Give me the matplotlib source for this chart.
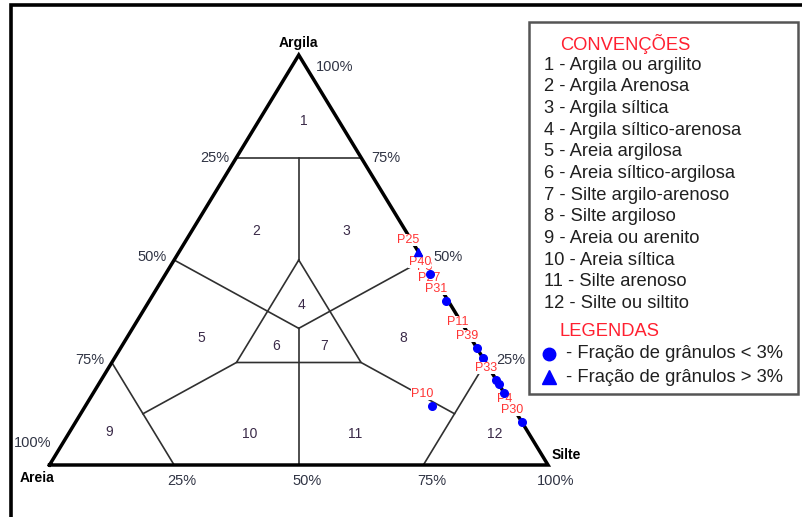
import matplotlib
matplotlib.use("Agg")
import matplotlib.pyplot as plt
from matplotlib.patches import Rectangle

plt.rcParams['font.family'] = ['Liberation Sans', 'DejaVu Sans']

# ---- sample data: (sand, silt, clay) in percent, in plotting order; "" = unnamed ----
sample_names = ["P3", "P27", "P40", "P31", "P11", "P39", "", "P33", "",
                "P4", "", "P30", "P25", "P10"]
sand_pct = [0, 0.5, 0.4, 0.5, 0, 0, 0, 0, 0, 0, 0, 0, 0, 16]
silt_pct = [54.6, 56.8, 53, 59.5, 68, 71.5, 73.9, 79.3, 80.2, 86.8, 82.4, 89.5, 48, 69.5]
clay_pct = [45.4, 42.7, 46.6, 40, 32, 28.5, 26.1, 20.7, 19.8, 13.2, 17.6, 10.5, 52, 14.5]
gravel_over_3 = [False, False, False, False, False, False, False, False, False,
                 False, False, False, True, False]

# ---- Shepard class labels ----
class_ids = ["1", "2", "3", "4", "5", "6", "7", "8", "9", "10", "11", "12"]
class_names = ["Argila ou argilito", "Argila Arenosa", "Argila síltica",
               "Argila síltico-arenosa", "Areia argilosa", "Areia síltico-argilosa",
               "Silte argilo-arenoso", "Silte argiloso", "Areia ou arenito",
               "Areia síltica", "Silte arenoso", "Silte ou siltito"]
class_pos = [(7, 9, 84), (30, 13, 57), (12, 31, 57), (30, 31, 39), (54, 15, 31),
             (40, 31, 29), (30.5, 40.5, 29), (13.5, 55.5, 31), (84, 8, 8),
             (56, 36.5, 7.5), (35, 57.5, 7.5), (7, 85.5, 7.5)]

edge_ticks = [25, 50, 75, 100]
tick_labels = ["25%", "50%", "75%", "100%"]

# ---- geometry of the triangle (figure pixels) ----
X0, Y0, W, H = 49.5, 465.0, 498.5, 410.0


def tern(sand, silt, clay):
    tot = sand + silt + clay
    si, cl = silt / tot, clay / tot
    return X0 + W * (si + cl / 2.0), Y0 - H * cl


fig = plt.figure(figsize=(8.03, 5.17), dpi=100)
ax = fig.add_axes([0, 0, 1, 1])
ax.set_xlim(0, 803)
ax.set_ylim(517, 0)
ax.axis('off')

# outer frame (top and left)
ax.plot([11, 11, 803], [517, 5, 5], color='black', lw=2.6, solid_joinstyle='miter')

# class boundaries
c3 = (100 / 3, 100 / 3, 100 / 3)
segments = [
    [(25, 0, 75), (0, 25, 75)],
    [(12.5, 12.5, 75), (25, 25, 50)],
    [(25, 25, 50), (50, 25, 25), (25, 50, 25), (25, 25, 50)],
    [(50, 0, 50), c3],
    [(0, 50, 50), c3],
    [c3, (50, 50, 0)],
    [(50, 25, 25), (75, 12.5, 12.5)],
    [(25, 50, 25), (12.5, 75, 12.5)],
    [(75, 0, 25), (75, 25, 0)],
    [(0, 75, 25), (25, 75, 0)],
]
for seg in segments:
    pts = [tern(*p) for p in seg]
    ax.plot([p[0] for p in pts], [p[1] for p in pts], color='#303030', lw=1.2, zorder=2)

# outer triangle
corners = [tern(100, 0, 0), tern(0, 100, 0), tern(0, 0, 100), tern(100, 0, 0)]
ax.plot([p[0] for p in corners], [p[1] for p in corners], color='black', lw=2.5,
        solid_joinstyle='miter', zorder=3)

# class numbers
num_color = '#3a2a48'
for cid, pos in zip(class_ids, class_pos):
    x, y = tern(*pos)
    ax.text(x, y, cid, ha='center', va='center', fontsize=10, color=num_color)

# percentage labels on the three edges
pct_color = '#303444'
for v, lab in zip(edge_ticks, tick_labels):
    # left edge: sand content
    x, y = tern(v, 0, 100 - v)
    dx, dy = (-22, -3) if v < 100 else (-17, -22)
    if v == 25:
        dy = 0
    ax.text(x + dx, y + dy, lab, ha='center', va='center', fontsize=10.5, color=pct_color)
    # right edge: clay content
    x, y = tern(0, 100 - v, v)
    dx, dy = (25, -3) if v < 100 else (36, 12)
    if v == 75:
        dy = 0
    ax.text(x + dx, y + dy, lab, ha='center', va='center', fontsize=10.5, color=pct_color,
            zorder=1)
    # base: silt content
    x, y = tern(100 - v, v, 0)
    ax.text(x + 8, y + 16, lab, ha='center', va='center', fontsize=10.5, color=pct_color)

# vertex names
xa, ya = tern(0, 0, 100)
ax.text(xa, ya - 12, "Argila", ha='center', va='center', fontsize=10, fontweight='bold')
xa, ya = tern(100, 0, 0)
ax.text(xa - 12, ya + 13, "Areia", ha='center', va='center', fontsize=10, fontweight='bold')
xa, ya = tern(0, 100, 0)
ax.text(xa + 18, ya - 10, "Silte", ha='center', va='center', fontsize=10, fontweight='bold')

# samples: each name sits in a white box drawn in sequence, so later
# names and markers lie on top of earlier ones
for k, (name, s, si, c, g) in enumerate(zip(sample_names, sand_pct, silt_pct,
                                            clay_pct, gravel_over_3)):
    x, y = tern(s, si, c)
    if name:
        ax.text(x - 10, y - 12, name, ha='center', va='center', fontsize=9,
                color='#ff3535', zorder=10 + 2 * k,
                bbox=dict(facecolor='white', edgecolor='none', pad=0.2))
    ax.plot(x, y, marker='^' if g else 'o', color='#0000ff', ms=6 if g else 5.5,
            mec='#0000ff', zorder=11 + 2 * k)

# legend box
ax.add_patch(Rectangle((529, 22), 269, 372, facecolor='white', edgecolor='#555555',
                       lw=1.8, zorder=100))
fs = 13.2
ax.text(560, 44, "CONVENÇÕES", ha='left', va='center', fontsize=fs, color='#ff2030',
        zorder=101)
for i, (cid, nm) in enumerate(zip(class_ids, class_names)):
    ax.text(544, 65 + 21.7 * i, f"{cid} - {nm}", ha='left', va='center', fontsize=fs,
            color='#202020', zorder=101)
ax.text(560, 331, "LEGENDAS", ha='left', va='center', fontsize=fs, color='#ff2030',
        zorder=101)
ax.plot(549, 354, marker='o', color='#0000ff', ms=9, zorder=101)
ax.text(566, 354, "- Fração de grânulos < 3%", ha='left', va='center', fontsize=fs,
        color='#202020', zorder=101)
ax.plot(549, 377, marker='^', color='#0000ff', ms=10, zorder=101)
ax.text(566, 377, "- Fração de grânulos > 3%", ha='left', va='center', fontsize=fs,
        color='#202020', zorder=101)

fig.savefig("out.png", dpi=100)
